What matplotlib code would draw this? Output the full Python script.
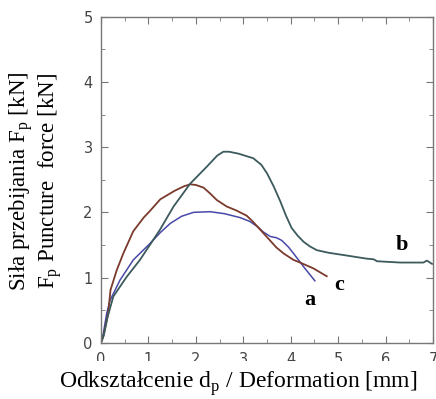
import numpy as np
import matplotlib.pyplot as plt
from matplotlib.patches import Rectangle

# curve a (blue)
a_x = [0.0, 0.05, 0.12, 0.19, 0.4, 0.68, 1.03, 1.25, 1.46, 1.7, 1.95, 2.3, 2.6, 2.93, 3.14, 3.3, 3.42,
       3.57, 3.7, 3.81, 3.95, 4.06, 4.3, 4.51]
a_y = [0.0, 0.15, 0.45, 0.65, 0.96, 1.27, 1.52, 1.69, 1.83, 1.94, 2.0, 2.01, 1.98, 1.92, 1.86, 1.78, 1.70,
       1.63, 1.61, 1.57, 1.47, 1.37, 1.14, 0.95]

# curve b (dark green)
b_x = [0.0, 0.06, 0.14, 0.26, 0.54, 0.82, 1.24, 1.53, 1.88, 2.23, 2.45, 2.58, 2.7, 2.9, 3.21, 3.38, 3.5,
       3.64, 3.78, 3.9, 4.02, 4.15, 4.27, 4.4, 4.55, 4.8, 5.25, 5.6, 5.75, 5.82, 6.31, 6.8, 6.87, 6.98]
b_y = [0.0, 0.12, 0.4, 0.71, 1.01, 1.27, 1.73, 2.09, 2.44, 2.70, 2.87, 2.93, 2.93, 2.9, 2.83, 2.73, 2.60,
       2.40, 2.17, 1.95, 1.76, 1.64, 1.55, 1.48, 1.42, 1.38, 1.33, 1.29, 1.28, 1.25, 1.23, 1.23, 1.26, 1.21]

# curve c (brown)
c_x = [0.0, 0.05, 0.15, 0.2, 0.33, 0.47, 0.68, 0.9, 1.03, 1.25, 1.55, 1.75, 1.88, 2.0, 2.16, 2.3, 2.44,
       2.65, 2.85, 3.07, 3.2, 3.35, 3.5, 3.7, 3.85, 4.06, 4.23, 4.48, 4.76]
c_y = [0.0, 0.1, 0.45, 0.81, 1.11, 1.37, 1.71, 1.92, 2.02, 2.20, 2.33, 2.40, 2.43, 2.42, 2.38, 2.29, 2.19,
       2.09, 2.03, 1.95, 1.86, 1.74, 1.62, 1.46, 1.37, 1.27, 1.22, 1.14, 1.02]

x_ticks = [0, 1, 2, 3, 4, 5, 6, 7]
y_ticks = [0, 1, 2, 3, 4, 5]

serif = "Liberation Serif"

fig = plt.figure(figsize=(4.36, 3.99), dpi=100)
ax = fig.add_axes([0.2317, 0.141, 0.7613, 0.817])

ax.plot(a_x, a_y, color="#4848a8", lw=1.1)
ax.plot(c_x, c_y, color="#7a3a2c", lw=1.3)
ax.plot(b_x, b_y, color="#3c5a5c", lw=1.3)

ax.text(4.41, 0.65, "a", family=serif, fontweight="bold", fontsize=16, ha="center", va="center")
ax.text(5.03, 0.88, "c", family=serif, fontweight="bold", fontsize=16, ha="center", va="center")
ax.text(6.34, 1.50, "b", family=serif, fontweight="bold", fontsize=16, ha="center", va="center")

ax.set_xlim(0, 7)
ax.set_ylim(0, 5)
ax.set_xticks(x_ticks)
ax.set_yticks(y_ticks)
ax.set_xticks(np.arange(0, 7.01, 0.5), minor=True)
ax.set_yticks(np.arange(0, 5.01, 0.5), minor=True)
ax.tick_params(which="both", direction="in", top=True, right=True, color="#777777",
               labelcolor="#444444", labelsize=10.5)
ax.tick_params(axis="x", pad=7)
ax.tick_params(axis="y", pad=6)
ax.tick_params(which="major", length=5)
ax.tick_params(which="minor", length=3)
for s in ax.spines.values():
    s.set_color("#777777")
    s.set_linewidth(1.0)

# axis titles placed on the figure, as in the scan
fig.text(238 / 436, 1 - 384 / 399, "Odkształcenie d$_\\mathregular{p}$ / Deformation [mm]",
         family=serif, fontsize=17, ha="center", va="center")
fig.text(22 / 436, 1 - 181 / 399, "Siła przebijania F$_\\mathregular{p}$ [kN]",
         family=serif, fontsize=16.5, ha="center", va="center", rotation=90)
fig.text(51 / 436, 1 - 181 / 399, "F$_\\mathregular{p}$ Puncture  force [kN]",
         family=serif, fontsize=16.5, ha="center", va="center", rotation=90)

# the source scan cuts the x tick labels in half
fig.patches.append(Rectangle((0, 1 - 371 / 399), 1, 10 / 399, transform=fig.transFigure,
                             facecolor="white", edgecolor="none", zorder=5))

fig.savefig("out.png", dpi=100)
